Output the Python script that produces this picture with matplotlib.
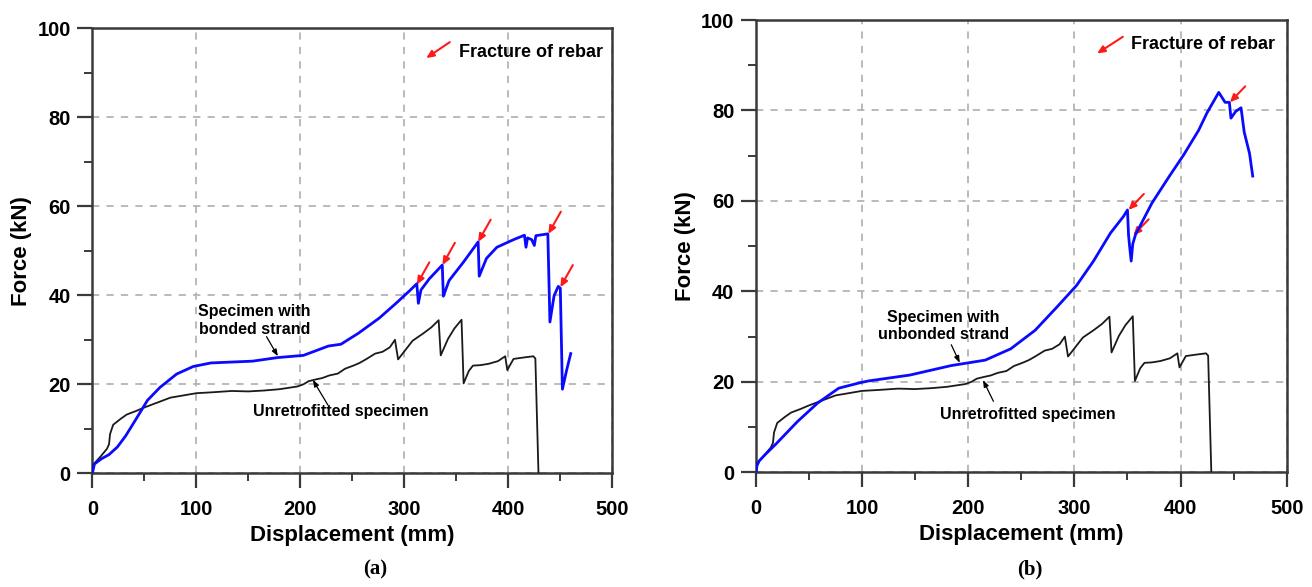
import matplotlib
matplotlib.use("Agg")
from matplotlib import pyplot as plt
from matplotlib.ticker import MultipleLocator

plt.rcParams["font.family"] = ["Liberation Sans", "DejaVu Sans"]
plt.rcParams["font.weight"] = "bold"

# unretrofitted specimen (same test in both panels)
BLACK_X = [0, 1, 8, 14, 16, 17, 20, 27, 33, 42, 49, 58, 66, 75, 90, 100, 115, 134, 150, 165,
           180, 197, 203, 208, 215, 221, 228, 236, 243, 251, 257, 263, 272, 279, 286, 291, 294, 302, 308, 318,
           326, 333, 335, 342, 348, 355, 357, 362, 366, 373, 381, 390, 397, 399, 405, 414, 424, 426, 429]
BLACK_Y = [0, 2, 3.8, 5.5, 6.5, 8.8, 10.9, 12.2, 13.2, 14, 14.7, 15.5, 16.2, 17, 17.6, 18, 18.2, 18.5, 18.4, 18.6,
           18.9, 19.5, 20, 20.7, 21.1, 21.4, 22, 22.4, 23.5, 24.2, 24.8, 25.6, 26.9, 27.3, 28.3, 30, 25.6, 28, 29.8, 31.4,
           32.8, 34.4, 26.5, 30.2, 32.5, 34.5, 20.2, 23, 24.2, 24.3, 24.6, 25.2, 26.3, 23.2, 25.7, 26, 26.3, 25.8, 0]

# (a) bonded strand
BONDED_X = [0, 2, 9, 16, 24, 32, 41, 53, 65, 81, 97, 114, 154, 178, 203, 227, 239, 256, 276, 292,
            305, 312, 313.5, 316, 324, 336.5, 337.5, 343, 357, 371, 372, 379, 389, 405, 415.5, 417, 418.5, 422.5, 425, 426.5,
            438, 440, 444, 448, 450, 452, 456, 460]
BONDED_Y = [0, 2.1, 3.3, 4.2, 5.9, 8.4, 11.8, 16.4, 19.3, 22.3, 24, 24.8, 25.2, 26, 26.5, 28.6, 29, 31.5, 34.9, 38.2,
            41, 42.6, 38.2, 41.2, 43.7, 46.8, 39.8, 43.3, 47.5, 52, 44.3, 48.3, 50.8, 52.5, 53.5, 50.8, 52.9, 52.5, 51.2, 53.4,
            53.8, 34, 39.9, 42, 41.6, 18.9, 23.1, 26.9]

# (b) unbonded strand
UNBONDED_X = [0, 1, 3, 9, 19, 39, 58, 78, 98, 106, 145, 184, 216, 240, 263, 283, 302, 318, 334, 346,
              350, 351, 352, 353.5, 355, 357.5, 373, 389, 403, 417, 425, 436, 442, 446, 447.5, 452, 457, 460, 465, 468]
UNBONDED_Y = [0, 1.5, 2.5, 4, 6.3, 11.2, 15.3, 18.6, 19.8, 20.2, 21.5, 23.6, 24.8, 27.3, 31.4, 36.4, 41.3, 46.7, 52.9, 56.5,
              58, 52.5, 50, 46.7, 50.5, 52.5, 59.5, 65.3, 70.2, 75.6, 79.5, 84, 81.8, 81.8, 78.3, 79.8, 80.6, 75.2, 70.5, 65.5]

# fracture of rebar points
FRACTURE_A_X = [312, 336.6, 371, 438.5, 450]
FRACTURE_A_Y = [42.4, 46.8, 52, 53.8, 41.8]
FRACTURE_B_X = [351, 355.5, 446.5]
FRACTURE_B_Y = [58, 52.4, 81.8]

RED = "#ff1a1a"
BLUE = "#0a0aff"
SPINE = "#3a3a3a"


def setup_axes(ax):
    ax.set_xlim(0, 500)
    ax.set_ylim(0, 100)
    ax.xaxis.set_major_locator(MultipleLocator(100))
    ax.xaxis.set_minor_locator(MultipleLocator(50))
    ax.yaxis.set_major_locator(MultipleLocator(20))
    ax.yaxis.set_minor_locator(MultipleLocator(10))
    ax.tick_params(which="major", direction="out", length=10.5, width=1.6, color=SPINE,
                   labelsize=14.5, pad=5)
    ax.tick_params(axis="x", which="major", pad=9)
    ax.tick_params(which="minor", direction="out", length=5.5, width=1.4, color=SPINE)
    for lab in ax.get_xticklabels() + ax.get_yticklabels():
        lab.set_fontweight("bold")
    for s in ax.spines.values():
        s.set_linewidth(1.8)
        s.set_color(SPINE)
    ax.grid(True, which="major", color="#b4b4b4", linestyle=(0, (4, 4)), linewidth=1.3)
    ax.set_axisbelow(True)
    ax.set_xlabel("Displacement (mm)", fontsize=16, fontweight="bold", labelpad=4)
    ax.set_ylabel("Force (kN)", fontsize=16, fontweight="bold", labelpad=4)


def red_arrow(ax, x, y, dx, dy):
    ax.annotate("", xy=(x, y), xytext=(dx, dy), textcoords="offset points",
                arrowprops=dict(arrowstyle="-|>,head_length=0.45,head_width=0.2",
                                color=RED, lw=1.5, shrinkA=0, shrinkB=0))


def leader(ax, text, xy, xytext, tip):
    ax.annotate(text, xy=tip, xytext=xytext, ha="center", va="center", fontsize=11.5,
                fontweight="bold", multialignment="center")
    ax.annotate("", xy=tip, xytext=xy,
                arrowprops=dict(arrowstyle="-|>,head_length=0.4,head_width=0.15",
                                color="black", lw=0.9, shrinkA=0, shrinkB=0))


fig = plt.figure(figsize=(13.12, 5.87), dpi=100)
ax1 = fig.add_axes([0.0704, 0.1937, 0.3963, 0.7581])
ax2 = fig.add_axes([0.5762, 0.1954, 0.4045, 0.7705])

for ax in (ax1, ax2):
    setup_axes(ax)
    ax.plot(BLACK_X, BLACK_Y, color="#1a1a1a", lw=1.3, zorder=3)

ax1.plot(BONDED_X, BONDED_Y, color=BLUE, lw=2.0, zorder=4)
ax2.plot(UNBONDED_X, UNBONDED_Y, color=BLUE, lw=2.0, zorder=4)

for x, y in zip(FRACTURE_A_X, FRACTURE_A_Y):
    red_arrow(ax1, x, y, 9, 16)
for x, y in zip(FRACTURE_B_X, FRACTURE_B_Y):
    red_arrow(ax2, x, y, 11, 11.5)

# legend-like note
red_arrow(ax1, 321, 93.3, 17, 11.5)
ax1.text(353, 94.5, "Fracture of rebar", fontsize=13, fontweight="bold", va="center", ha="left")
red_arrow(ax2, 321.4, 92.6, 18.5, 12)
ax2.text(353, 94.6, "Fracture of rebar", fontsize=13, fontweight="bold", va="center", ha="left")

# curve labels
leader(ax1, "Specimen with\nbonded strand", (167.5, 30.7), (156, 34.3), (178.4, 26.3))
leader(ax1, "Unretrofitted specimen", (226.6, 15.3), (239, 13.9), (212, 21))
leader(ax2, "Specimen with\nunbonded strand", (184, 28.2), (176.5, 32.4), (192, 24.2))
leader(ax2, "Unretrofitted specimen", (223.7, 15.7), (256, 12.8), (213.9, 20.4))

fig.text(0.286, 0.029, "(a)", fontsize=15, fontweight="bold", family=["Liberation Serif", "DejaVu Serif"],
         ha="center", va="center")
fig.text(0.785, 0.029, "(b)", fontsize=15, fontweight="bold", family=["Liberation Serif", "DejaVu Serif"],
         ha="center", va="center")

fig.savefig("out.png", dpi=100)
